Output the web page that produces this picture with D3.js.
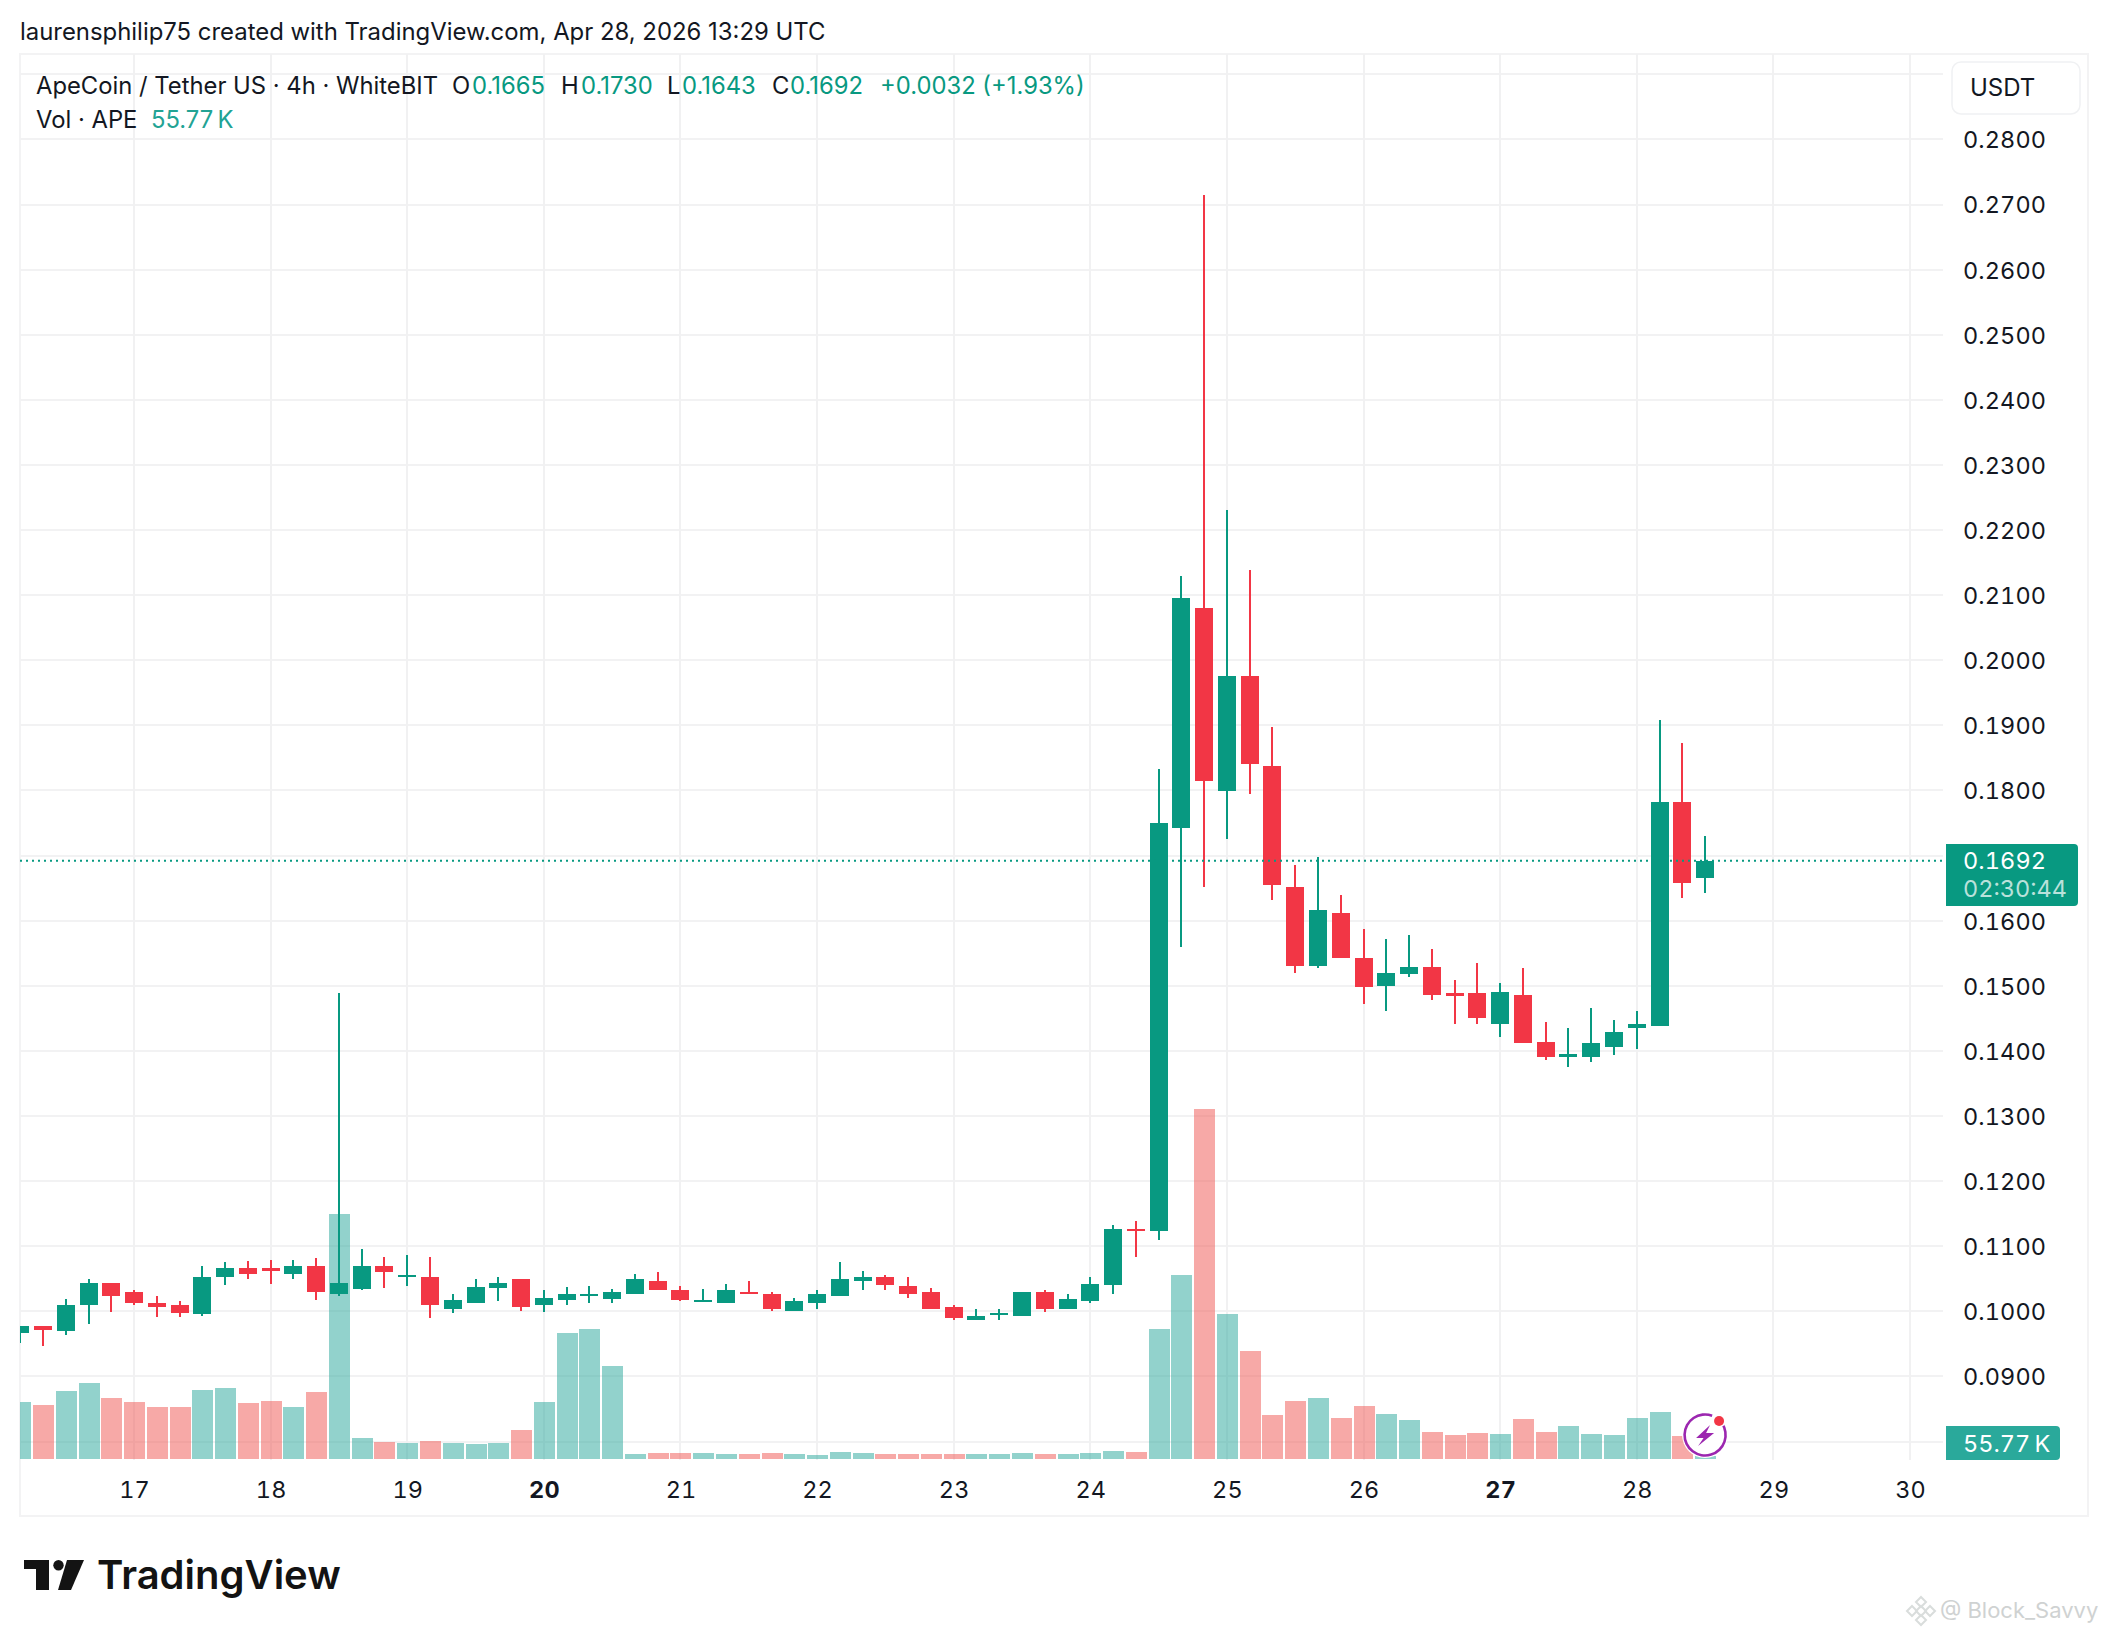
<!DOCTYPE html>
<html>
<head>
<meta charset="utf-8">
<script src="https://cdn.jsdelivr.net/npm/d3@7"></script>
<style>
  body { margin: 0; background: #fff; }
  text { font-family: Inter, "Noto Sans", sans-serif; fill: #131722; }
  .tnum text, text.tnum { font-variant-numeric: tabular-nums; }
</style>
</head>
<body>
<div id="chart"></div>
<script>
// 4h candles, bar 0 is Apr 16 04:00
var opens = [.0966,.0978,.0969,.1009,.1044,.1029,.1013,.1009,.0996,.1052,.1066,.1066,.1058,.1070,.1026,.1035,.1069,.1052,.1053,.1004,
  .1012,.1036,.1049,.1010,.1018,.1024,.1019,.1027,.1047,.1033,.1015,.1012,.1030,.1026,.1001,.1012,.1024,.1047,.1053,.1039,
  .1029,.1006,.0987,.0995,.0993,.1029,.1003,.1016,.1041,.1127,.1123,.1743,.2081,.1800,.1976,.1838,.1652,.1531,.1612,.1542,
  .1499,.1518,.1529,.1489,.1489,.1441,.1486,.1413,.1390,.1390,.1406,.1435,.1438,.1782,.1665];
var closes = [.0978,.0971,.1009,.1044,.1024,.1012,.1006,.0998,.1053,.1066,.1058,.1062,.1070,.1030,.1044,.1069,.1061,.1055,.1009,.1018,
  .1038,.1043,.1006,.1021,.1026,.1027,.1030,.1049,.1033,.1018,.1018,.1032,.1027,.1004,.1016,.1026,.1050,.1053,.1041,.1027,
  .1004,.0989,.0993,.0998,.1029,.1004,.1019,.1042,.1127,.1124,.1750,.2096,.1814,.1976,.1840,.1655,.1531,.1616,.1542,.1498,
  .1519,.1529,.1486,.1484,.1450,.1490,.1412,.1390,.1396,.1412,.1429,.1441,.1782,.1658,.1692];
var highs = [.0978,.0978,.1019,.1050,.1044,.1033,.1023,.1016,.1069,.1075,.1078,.1079,.1079,.1082,.1489,.1096,.1084,.1086,.1084,.1026,
  .1050,.1053,.1049,.1033,.1038,.1039,.1035,.1058,.1061,.1039,.1035,.1042,.1046,.1030,.1021,.1032,.1076,.1062,.1055,.1053,
  .1036,.1010,.1003,.1003,.1029,.1033,.1026,.1052,.1133,.1138,.1833,.2129,.2715,.2231,.2138,.1897,.1686,.1698,.1640,.1588,
  .1572,.1578,.1556,.1509,.1535,.1505,.1527,.1444,.1435,.1466,.1447,.1462,.1909,.1873,.1730];
var lows = [.0952,.0947,.0963,.0980,.0999,.1009,.0992,.0992,.0993,.1041,.1049,.1042,.1049,.1018,.1023,.1033,.1036,.1039,.0989,.0998,
  .1012,.1016,.1001,.0999,.1009,.1012,.1013,.1027,.1032,.1016,.1015,.1012,.1026,.1001,.1001,.1004,.1024,.1033,.1033,.1021,
  .1004,.0986,.0987,.0986,.0993,.0999,.1003,.1013,.1027,.1084,.1110,.1559,.1652,.1726,.1795,.1632,.1520,.1528,.1542,.1472,
  .1462,.1513,.1478,.1442,.1442,.1421,.1412,.1386,.1376,.1383,.1393,.1403,.1438,.1635,.1643];
// volume in thousands of APE
var volumes = [1058,1003,1263,1411,1133,1058,966,966,1281,1318,1040,1077,966,1244,4556,390,316,297,334,297,
  279,297,539,1058,2340,2414,1727,93,111,111,111,93,93,111,93,74,130,111,93,93,
  93,93,93,93,111,93,93,111,149,130,2414,3417,6500,2693,2006,817,1077,1133,761,984,
  836,724,501,446,483,464,743,501,613,464,446,761,873,427,55.77];

var dayLabels = [17,18,19,20,21,22,23,24,25,26,27,28,29,30];
var boldDays = [20,27];
var barsPerDay = 6, firstDayBar = 5;
var gridPrices = d3.range(8,30).map(function(d) { return d / 100; });
var priceLabels = gridPrices.filter(function(d) { return d != .08 && d != .17 && d != .29; });
var lastPrice = .1692;

var green = "#089981", red = "#F23645";

var width = 2108, height = 1636;
var paneLeft = 20, paneRight = 1945, paneBottom = 1460;

var svg = d3.select("#chart").append("svg")
  .attr("width", width)
  .attr("height", height)
  .style("display", "block");

svg.append("clipPath").attr("id", "pane")
  .append("rect")
    .attr("x", paneLeft)
    .attr("y", 54)
    .attr("width", paneRight - paneLeft)
    .attr("height", paneBottom - 54);

var x = d3.scaleLinear().domain([0, 83]).range([20.2, 1910]);
var y = d3.scaleLinear().domain([.08, .29]).range([1441.5, 74.4]);
var yVol = d3.scaleLinear().domain([0, 6500]).range([1459, 1109]);

function dayBar(day) { return firstDayBar + (day - 17) * barsPerDay; }

// outer frame
svg.append("rect")
  .attr("x", 20).attr("y", 54)
  .attr("width", 2068).attr("height", 1462)
  .attr("fill", "none")
  .attr("stroke", "#f3f3f4")
  .attr("stroke-width", 2);

// grid
var grid = svg.append("g").attr("clip-path", "url(#pane)");
grid.selectAll(".hgrid").data(gridPrices).enter().append("rect")
  .attr("x", paneLeft).attr("width", paneRight - paneLeft - 2)
  .attr("y", function(d) { return Math.round(y(d)) - 1; })
  .attr("height", 2)
  .attr("fill", "#f2f2f3");
grid.selectAll(".vgrid").data(dayLabels).enter().append("rect")
  .attr("x", function(d) { return Math.round(x(dayBar(d))) - 1; })
  .attr("width", 2)
  .attr("y", 54).attr("height", paneBottom - 54)
  .attr("fill", "#f1f1f2");

var plot = svg.append("g").attr("clip-path", "url(#pane)");

// Volume bars
plot.selectAll(".vol").data(volumes).enter().append("rect")
  .attr("x", function(d, i) { return Math.round(x(i)) - 10.5; })
  .attr("width", 21)
  .attr("y", function(d) { return yVol(d); })
  .attr("height", function(d) { return yVol(0) - yVol(d); })
  .attr("fill", function(d, i) { return closes[i] >= opens[i] ? "rgba(38,166,154,.5)" : "rgba(239,83,80,.5)"; })
  .attr("shape-rendering", "crispEdges");

// wicks
plot.selectAll(".wick").data(highs).enter().append("rect")
  .attr("x", function(d, i) { return Math.round(x(i)) - 1; })
  .attr("width", 2)
  .attr("y", function(d) { return y(d); })
  .attr("height", function(d, i) { return y(lows[i]) - y(d); })
  .attr("fill", function(d, i) { return closes[i] >= opens[i] ? green : red; })
  .attr("shape-rendering", "crispEdges");

// candle bodies
plot.selectAll(".body").data(opens).enter().append("rect")
  .attr("x", function(d, i) { return Math.round(x(i)) - 9; })
  .attr("width", 18)
  .attr("y", function(d, i) { return y(Math.max(d, closes[i])); })
  .attr("height", function(d, i) { return Math.max(2, Math.abs(y(d) - y(closes[i]))); })
  .attr("fill", function(d, i) { return closes[i] >= opens[i] ? green : red; })
  .attr("shape-rendering", "crispEdges");

// last price line
svg.append("line")
  .attr("x1", paneLeft).attr("x2", paneRight)
  .attr("y1", y(lastPrice)).attr("y2", y(lastPrice))
  .attr("stroke", green)
  .attr("stroke-width", 2)
  .attr("stroke-dasharray", "2,4");

// axes
var yAxis = svg.append("g")
  .attr("class", "tnum")
  .attr("transform", "translate(" + paneRight + ",0.8)")
  .call(d3.axisRight(y).tickValues(priceLabels).tickSize(0).tickPadding(18).tickFormat(d3.format(".4f")));
yAxis.select(".domain").remove();
yAxis.selectAll("text")
  .style("font-size", "23.5px")
  .style("letter-spacing", "0.1px");

var xAxis = svg.append("g")
  .attr("class", "tnum")
  .attr("transform", "translate(0," + 1471.5 + ")")
  .call(d3.axisBottom(x).tickValues(dayLabels.map(dayBar)).tickSize(0).tickPadding(10)
    .tickFormat(function(d) { return (d - firstDayBar) / barsPerDay + 17; }));
xAxis.select(".domain").remove();
xAxis.selectAll("text")
  .style("font-size", "23.5px")
  .style("letter-spacing", "0.1px")
  .style("font-weight", function(d) {
    return boldDays.indexOf((d - firstDayBar) / barsPerDay + 17) >= 0 ? 700 : 400;
  });

// currency box
svg.append("rect")
  .attr("x", 1952).attr("y", 62)
  .attr("width", 128).attr("height", 52)
  .attr("rx", 9)
  .attr("fill", "#fff")
  .attr("stroke", "#f0f1f3")
  .attr("stroke-width", 1.5);
svg.append("text").attr("x", 1970).attr("y", 96)
  .style("font-size", "24px").text("USDT");

// price tag
svg.append("path")
  .attr("d", "M1946,844H2074a4,4 0 0 1 4,4V902a4,4 0 0 1 -4,4H1946Z")
  .attr("fill", green);
svg.append("text").attr("class", "tnum").attr("x", 1963).attr("y", 869)
  .style("font-size", "23.5px").style("letter-spacing", "0.1px").style("fill", "#fff")
  .text(d3.format(".4f")(lastPrice));
svg.append("text").attr("class", "tnum").attr("x", 1963).attr("y", 897)
  .style("font-size", "23.5px").style("fill", "#fff").style("fill-opacity", .72)
  .text("02:30:44");

// volume tag
svg.append("path")
  .attr("d", "M1946,1426H2056a4,4 0 0 1 4,4V1456a4,4 0 0 1 -4,4H1946Z")
  .attr("fill", "#2AA99B");
svg.append("text").attr("class", "tnum").attr("x", 1963).attr("y", 1452)
  .style("font-size", "23.5px").style("fill", "#fff")
  .text("55.77\u2009K");

// header and legend
svg.append("text").attr("x", 20).attr("y", 40)
  .style("font-size", "23.9px")
  .text("laurensphilip75 created with TradingView.com, Apr 28, 2026 13:29 UTC");

var legendText = ["ApeCoin / Tether US \u00b7 4h \u00b7 WhiteBIT", "O", "0.1665", "H", "0.1730", "L", "0.1643", "C", "0.1692", "+0.0032 (+1.93%)"];
var legendX = [36, 452, 472, 561, 581, 667, 682, 772, 790, 880];
var legendColor = ["#131722", "#131722", green, "#131722", green, "#131722", green, "#131722", green, green];
svg.selectAll(".legend").data(legendText).enter().append("text")
  .attr("x", function(d, i) { return legendX[i]; })
  .attr("y", 94)
  .style("font-size", "23.8px")
  .style("fill", function(d, i) { return legendColor[i]; })
  .text(function(d) { return d; });
svg.append("text").attr("x", 36).attr("y", 128)
  .style("font-size", "23.8px").text("Vol \u00b7 APE");
svg.append("text").attr("x", 151).attr("y", 128)
  .style("font-size", "23.8px").style("fill", "#22A394").text("55.77\u2009K");

// news bolt marker on the last bar
var icon = svg.append("g").attr("transform", "translate(" + x(74) + ",1435)");
icon.append("circle").attr("r", 23).attr("fill", "#fff");
icon.append("path")
  .attr("d", d3.arc()({innerRadius: 19.2, outerRadius: 21.8, startAngle: .95, endAngle: Math.PI * 2 + .35}))
  .attr("fill", "#9C27B0");
icon.append("path")
  .attr("d", "M5,-10L-9,3H-1.5L-7,11L9,-2H1Z")
  .attr("fill", "#9C27B0");
icon.append("circle").attr("cx", 14).attr("cy", -14).attr("r", 6.5).attr("fill", "#fff");
icon.append("circle").attr("cx", 14).attr("cy", -14).attr("r", 5).attr("fill", red);

// TradingView logo
var logo = svg.append("g").attr("fill", "#131313");
logo.append("path").attr("d", "M24,1560H49V1590H36V1569H24Z");
logo.append("circle").attr("cx", 58.5).attr("cy", 1565.3).attr("r", 5.2);
logo.append("path").attr("d", "M67,1560H84L71,1590H58Z");
svg.append("text").attr("x", 97).attr("y", 1589)
  .style("font-size", "40px").style("font-weight", 600).style("fill", "#131313")
  .text("TradingView");

// watermark
var mark = svg.append("g").attr("transform", "translate(1921,1611)")
  .attr("fill", "none").attr("stroke", "#d9dddc").attr("stroke-width", 2);
[[0,-9],[9,0],[0,9],[-9,0],[0,0]].forEach(function(p) {
  mark.append("path")
    .attr("transform", "translate(" + p[0] + "," + p[1] + ")")
    .attr("d", "M0,-5L5,0L0,5L-5,0Z");
});
svg.append("text").attr("x", 1940).attr("y", 1618)
  .style("font-size", "22px").style("fill", "#cfd2d2")
  .text("@ Block_Savvy");
</script>
</body>
</html>
